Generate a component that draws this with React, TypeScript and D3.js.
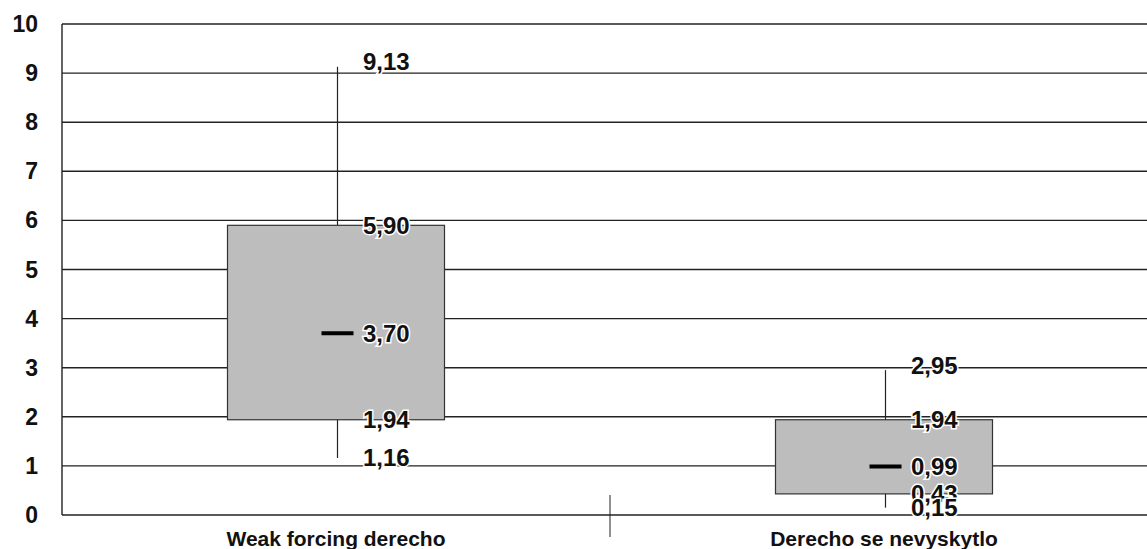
import * as d3 from "d3";

const categories = ["Weak forcing derecho", "Derecho se nevyskytlo"];
const lows = [1.16, 0.15];
const q1s = [1.94, 0.43];
const medians = [3.7, 0.99];
const q3s = [5.9, 1.94];
const highs = [9.13, 2.95];
const yTicks = [0, 1, 2, 3, 4, 5, 6, 7, 8, 9, 10];

const width = 1147;
const height = 549;
const font = "'Liberation Sans', Arial, sans-serif";

const fmt = (v: number) => v.toFixed(2).replace(".", ",");

const App = () => {
  const y = d3.scaleLinear().domain([0, 10]).range([515, 24]);
  const x = d3.scaleBand().domain(categories).range([62, 1158]);
  const boxW = x.step() * 0.396;

  const rows = categories.map((c, i) => ({
    c,
    low: lows[i],
    q1: q1s[i],
    med: medians[i],
    q3: q3s[i],
    high: highs[i],
  }));

  const labelStyle = {
    fontFamily: font,
    fontWeight: 700,
    fontSize: 24,
    fill: "#111",
    stroke: "#fff",
    strokeWidth: 3,
    paintOrder: "stroke",
  } as const;

  return (
    <svg
      width={width}
      height={height}
      style={{ position: "absolute", left: 0, top: 0, background: "#fff" }}
    >
      {yTicks.map((t) => (
        <g key={t}>
          <line x1={62} x2={width} y1={y(t)} y2={y(t)} stroke="#222" strokeWidth={1.4} />
          <text
            x={38}
            y={y(t)}
            dy="0.35em"
            textAnchor="end"
            fontFamily={font}
            fontWeight={700}
            fontSize={23}
            fill="#111"
          >
            {t}
          </text>
        </g>
      ))}
      <line x1={62} x2={62} y1={y(10)} y2={y(0)} stroke="#222" strokeWidth={1.4} />
      <line x1={x.step() + 62} x2={x.step() + 62} y1={y(0) - 20} y2={y(0) + 22} stroke="#222" strokeWidth={1} />

      {rows.map((r) => {
        const cx = (x(r.c) ?? 0) + x.bandwidth() / 2;
        const wx = cx + 1.5;
        const lx = cx + 27;
        return (
          <g key={r.c}>
            <line x1={wx} x2={wx} y1={y(r.high)} y2={y(r.low)} stroke="#222" strokeWidth={1.2} />
            <rect
              x={cx - boxW / 2}
              y={y(r.q3)}
              width={boxW}
              height={y(r.q1) - y(r.q3)}
              fill="#bdbdbd"
              stroke="#333"
              strokeWidth={1.2}
            />
            <line x1={wx - 16} x2={wx + 16} y1={y(r.med)} y2={y(r.med)} stroke="#000" strokeWidth={4} />
            {[r.high, r.q3, r.med, r.q1, r.low].map((v, k) => (
              <text key={k} x={lx} y={y(v)} dy={k === 0 ? "0.15em" : "0.35em"} style={labelStyle}>
                {fmt(v)}
              </text>
            ))}
            <text
              x={cx}
              y={y(0) + 31}
              textAnchor="middle"
              fontFamily={font}
              fontWeight={700}
              fontSize={21}
              fill="#111"
            >
              {r.c}
            </text>
          </g>
        );
      })}
    </svg>
  );
};

export default App;
